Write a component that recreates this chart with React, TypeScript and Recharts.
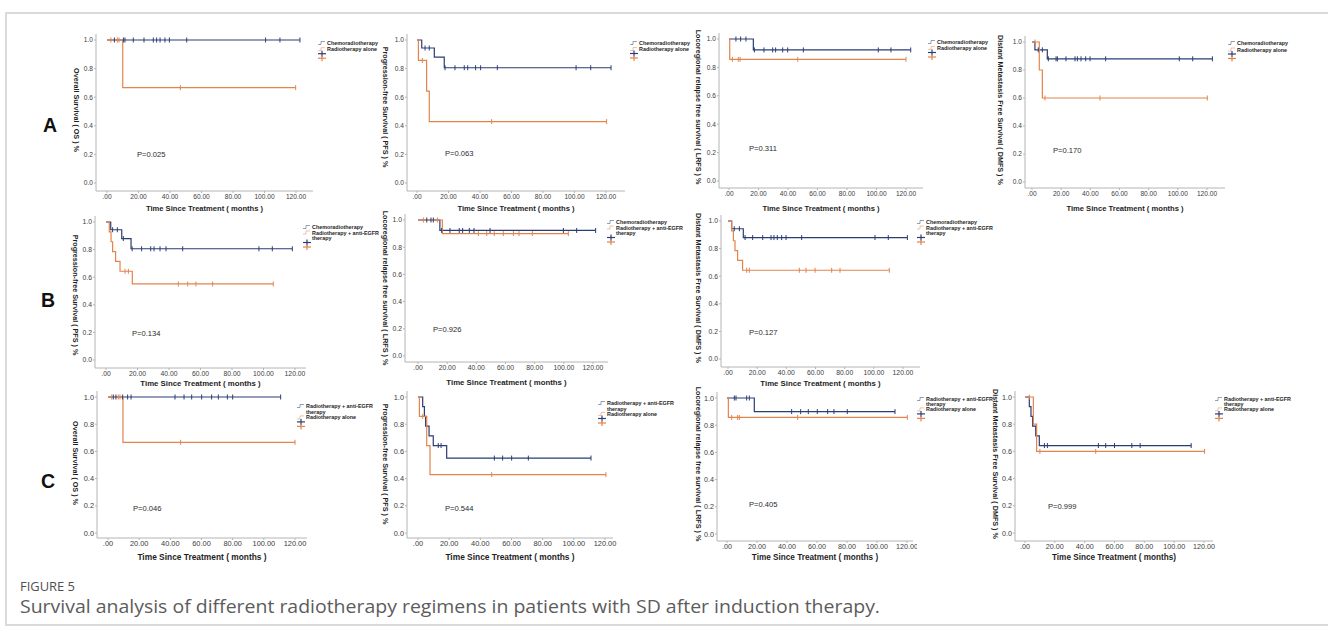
import { LineChart, Line, XAxis, YAxis } from 'recharts';

// [month, survival, censored]
type Pt = [number, number, number?];

const BLUE = '#2a3d75';
const ORANGE = '#e3844d';
const AXIS = '#b4b4b4';
const FONT = "'Liberation Sans', Arial, sans-serif";

const monthTicks = [0, 20, 40, 60, 80, 100, 120];
const survivalTicks = [0, 0.2, 0.4, 0.6, 0.8, 1.0];

// ---- Row A: chemoradiotherapy vs radiotherapy alone ----
const osChemoA: Pt[] = [[0, 1], [4.7, 1, 1], [10.4, 1, 1], [11.4, 1, 1], [16.7, 1, 1], [23.5, 1, 1], [29.4, 1, 1], [31.5, 1, 1], [33.7, 1, 1], [36.8, 1, 1], [39.6, 1, 1], [50.6, 1, 1], [100.7, 1, 1], [109.8, 1, 1], [122.5, 1, 1]];
const osRtA: Pt[] = [[0, 1], [2.5, 1, 1], [6.6, 1, 1], [7.6, 1, 1], [10, 0.667], [46.6, 0.667, 1], [119.8, 0.667, 1]];

const pfsChemoA: Pt[] = [[0, 1], [3, 0.944], [5.1, 0.944, 1], [7.8, 0.944, 1], [11, 0.88], [17.3, 0.806], [17.8, 0.806, 1], [24.1, 0.806, 1], [30, 0.806, 1], [32.2, 0.806, 1], [37.2, 0.806, 1], [40.4, 0.806, 1], [51, 0.806, 1], [101, 0.806, 1], [110.3, 0.806, 1], [123.2, 0.806, 1]];
const pfsRtA: Pt[] = [[0, 1], [0.9, 0.857], [3.4, 0.857, 1], [6.1, 0.643], [7.8, 0.429], [47.4, 0.429, 1], [120.4, 0.429, 1]];

const lrfsChemoA: Pt[] = [[0, 1], [4.7, 1, 1], [7.9, 1, 1], [11.5, 1, 1], [16.5, 0.923], [17.2, 0.923, 1], [23.7, 0.923, 1], [29.6, 0.923, 1], [31.6, 0.923, 1], [36.4, 0.923, 1], [39.8, 0.923, 1], [50.4, 0.923, 1], [101.2, 0.923, 1], [109.8, 0.923, 1], [123.2, 0.923, 1]];
const lrfsRtA: Pt[] = [[0, 1], [0.5, 0.857], [2.3, 0.857, 1], [6.3, 0.857, 1], [7.5, 0.857, 1], [46.6, 0.857, 1], [120, 0.857, 1]];

const dmfsChemoA: Pt[] = [[0, 1], [2, 0.944], [4.3, 0.944, 1], [7.1, 0.944, 1], [10.5, 0.88], [11.2, 0.88, 1], [16.5, 0.88, 1], [17.4, 0.88, 1], [23.3, 0.88, 1], [29.5, 0.88, 1], [31.1, 0.88, 1], [33.6, 0.88, 1], [36.8, 0.88, 1], [39.8, 0.88, 1], [50.5, 0.88, 1], [101, 0.88, 1], [110.2, 0.88, 1], [123.7, 0.88, 1]];
const dmfsRtA: Pt[] = [[0, 1], [2, 1, 1], [5, 0.8], [7.1, 0.6], [8.9, 0.6, 1], [46.6, 0.6, 1], [120.2, 0.6, 1]];

// ---- Row B: chemoradiotherapy vs radiotherapy + anti-EGFR ----
const pfsChemoB: Pt[] = [[0, 1], [3, 0.944], [4.2, 0.944, 1], [7.2, 0.944, 1], [10, 0.88], [11, 0.88, 1], [15.9, 0.806], [16.6, 0.806, 1], [22.6, 0.806, 1], [28.4, 0.806, 1], [30.5, 0.806, 1], [34.3, 0.806, 1], [38.1, 0.806, 1], [48.7, 0.806, 1], [97.1, 0.806, 1], [105.6, 0.806, 1], [118.3, 0.806, 1]];
const pfsEgfrB: Pt[] = [[0, 1], [2.1, 0.929], [3.2, 0.857], [4.2, 0.786], [6.1, 0.714], [8.9, 0.643], [12.1, 0.643, 1], [14.2, 0.643, 1], [16.7, 0.551], [45.9, 0.551, 1], [51.9, 0.551, 1], [57.1, 0.551, 1], [67.7, 0.551, 1], [106.2, 0.551, 1]];

const lrfsChemoB: Pt[] = [[0, 1], [6, 1, 1], [8.9, 1, 1], [10.5, 1, 1], [15, 0.923], [16.2, 0.923, 1], [21.9, 0.923, 1], [28.3, 0.923, 1], [30.6, 0.923, 1], [35.2, 0.923, 1], [38.4, 0.923, 1], [49.4, 0.923, 1], [99.7, 0.923, 1], [108.8, 0.923, 1], [121.8, 0.923, 1]];
const lrfsEgfrB: Pt[] = [[0, 1], [3.7, 1, 1], [13.3, 1, 1], [16.7, 0.9], [41.4, 0.9, 1], [47.1, 0.9, 1], [52.3, 0.9, 1], [58.5, 0.9, 1], [65.4, 0.9, 1], [69.3, 0.9, 1], [78.4, 0.9, 1], [103.1, 0.9, 1]];

const dmfsChemoB: Pt[] = [[0, 1], [2.5, 0.944], [4.3, 0.944, 1], [7.8, 0.944, 1], [10.5, 0.88], [11.7, 0.88, 1], [16.9, 0.88, 1], [23.8, 0.88, 1], [29.5, 0.88, 1], [31.5, 0.88, 1], [33.8, 0.88, 1], [36.8, 0.88, 1], [39.8, 0.88, 1], [50.5, 0.88, 1], [100.8, 0.88, 1], [109.9, 0.88, 1], [123, 0.88, 1]];
const dmfsEgfrB: Pt[] = [[0, 1], [2.5, 0.929], [3.7, 0.857], [4.8, 0.786], [6.6, 0.714], [10, 0.643], [12.8, 0.643, 1], [14.6, 0.643, 1], [48.9, 0.643, 1], [53.5, 0.643, 1], [59.7, 0.643, 1], [71.1, 0.643, 1], [76.8, 0.643, 1], [110.6, 0.643, 1]];

// ---- Row C: radiotherapy + anti-EGFR vs radiotherapy alone ----
const osEgfrC: Pt[] = [[0, 1], [3.4, 1, 1], [5.1, 1, 1], [9.4, 1, 1], [12.6, 1, 1], [14.8, 1, 1], [43, 1, 1], [48.8, 1, 1], [53.7, 1, 1], [60.1, 1, 1], [66.5, 1, 1], [70.8, 1, 1], [76.6, 1, 1], [80, 1, 1], [110.8, 1, 1]];
const osRtC: Pt[] = [[0, 1], [2.4, 1, 1], [6.6, 1, 1], [7.7, 1, 1], [9.6, 0.667], [46.6, 0.667, 1], [120, 0.667, 1]];

const pfsEgfrC: Pt[] = [[0, 1], [3, 0.929], [4.1, 0.857], [4.9, 0.786], [7.1, 0.714], [9.8, 0.643], [13, 0.643, 1], [14.8, 0.643, 1], [18.4, 0.551], [49, 0.551, 1], [54.3, 0.551, 1], [60.1, 0.551, 1], [70.8, 0.551, 1], [111, 0.551, 1]];
const pfsRtC: Pt[] = [[0, 1], [0.9, 0.857], [3, 0.857, 1], [5.6, 0.643], [7.7, 0.429], [47.3, 0.429, 1], [120.6, 0.429, 1]];

const lrfsEgfrC: Pt[] = [[0, 1], [4.9, 1, 1], [6, 1, 1], [13.1, 1, 1], [14.9, 1, 1], [18.2, 0.9], [43.1, 0.9, 1], [49.1, 0.9, 1], [54.2, 0.9, 1], [60.2, 0.9, 1], [67.1, 0.9, 1], [71.3, 0.9, 1], [80.2, 0.9, 1], [112, 0.9, 1]];
const lrfsRtC: Pt[] = [[0, 1], [0.9, 0.857], [3.1, 0.857, 1], [7.1, 0.857, 1], [8.2, 0.857, 1], [47.1, 0.857, 1], [120.2, 0.857, 1]];

const dmfsEgfrC: Pt[] = [[0, 1], [2.9, 0.929], [4, 0.857], [5.1, 0.786], [7.2, 0.714], [9.6, 0.643], [13, 0.643, 1], [15, 0.643, 1], [49.2, 0.643, 1], [54.1, 0.643, 1], [60, 0.643, 1], [71.6, 0.643, 1], [77.2, 0.643, 1], [111.4, 0.643, 1]];
const dmfsRtC: Pt[] = [[0, 1], [2.9, 1, 1], [5.6, 0.8], [7.8, 0.6], [10, 0.6, 1], [47.4, 0.6, 1], [120.4, 0.6, 1]];

type LegendRow = { text: string; icon?: string };
const legendA: LegendRow[] = [{ text: 'Chemoradiotherapy', icon: BLUE }, { text: 'Radiotherapy alone', icon: ORANGE }];
const legendB: LegendRow[] = [{ text: 'Chemoradiotherapy', icon: BLUE }, { text: 'Radiotherapy + anti-EGFR', icon: ORANGE }, { text: 'therapy' }];
const legendC: LegendRow[] = [{ text: 'Radiotherapy + anti-EGFR', icon: BLUE }, { text: 'therapy' }, { text: 'Radiotherapy alone', icon: ORANGE }];

const OS = 'Overall Survival ( OS ) %';
const PFS = 'Progression-free Survival ( PFS ) %';
const LRFS = 'Locoregional relapse free survival ( LRFS ) %';
const DMFS = 'Distant Metastasis Free Survival ( DMFS ) %';
const TIME = 'Time Since Treatment ( months )';

// pixel frame of each plot: y-axis line, month 0, month 120, right end, survival 1.0, survival 0.0, x-axis line
type Frame = { axisX: number; zeroX: number; x120: number; rightX: number; y1: number; y0: number; bottomY: number };

type Panel = {
  f: Frame;
  blue: Pt[];
  orange: Pt[];
  yLabel: string;
  yl: [number, number];
  clipTop?: number;
  p: string;
  pPos: [number, number];
  legend: LegendRow[];
  lg: [number, number, number];
  titleY: number;
  tickFont: number;
  title?: string;
};

const panels: Panel[] = [
  { f: { axisX: 96, zeroX: 107, x120: 296, rightX: 313, y1: 40, y0: 183, bottomY: 191 }, blue: osChemoA, orange: osRtA, yLabel: OS, yl: [76, 110], p: 'P=0.025', pPos: [137, 154], legend: legendA, lg: [318, 43, 6.2], titleY: 208, tickFont: 6.6 },
  { f: { axisX: 407, zeroX: 417, x120: 606, rightX: 625, y1: 40, y0: 183, bottomY: 191 }, blue: pfsChemoA, orange: pfsRtA, yLabel: PFS, yl: [385, 107], p: 'P=0.063', pPos: [445, 153], legend: legendA, lg: [630, 43, 6], titleY: 208, tickFont: 6.6 },
  { f: { axisX: 719, zeroX: 729, x120: 906, rightX: 923, y1: 39, y0: 181, bottomY: 188 }, blue: lrfsChemoA, orange: lrfsRtA, yLabel: LRFS, yl: [698, 107], clipTop: 36, p: 'P=0.311', pPos: [749, 148], legend: legendA, lg: [928, 42, 6], titleY: 208, tickFont: 6.6 },
  { f: { axisX: 1025, zeroX: 1032, x120: 1207, rightX: 1225, y1: 42, y0: 182, bottomY: 188 }, blue: dmfsChemoA, orange: dmfsRtA, yLabel: DMFS, yl: [1000, 110], p: 'P=0.170', pPos: [1053, 150], legend: legendA, lg: [1228, 43, 6.5], titleY: 208, tickFont: 6.6 },
  { f: { axisX: 95, zeroX: 106, x120: 295, rightX: 306, y1: 222, y0: 360, bottomY: 368 }, blue: pfsChemoB, orange: pfsEgfrB, yLabel: PFS, yl: [75, 295], p: 'P=0.134', pPos: [132, 333], legend: legendB, lg: [303, 227, 5.5], titleY: 383, tickFont: 6.8 },
  { f: { axisX: 405, zeroX: 418, x120: 593, rightX: 608, y1: 220, y0: 356, bottomY: 362 }, blue: lrfsChemoB, orange: lrfsEgfrB, yLabel: LRFS, yl: [385, 288], p: 'P=0.926', pPos: [433, 329], legend: legendB, lg: [607, 222, 5.5], titleY: 382, tickFont: 6.8 },
  { f: { axisX: 721, zeroX: 728, x120: 903, rightX: 920, y1: 221, y0: 359, bottomY: 367 }, blue: dmfsChemoB, orange: dmfsEgfrB, yLabel: DMFS, yl: [698, 288], p: 'P=0.127', pPos: [749, 332], legend: legendB, lg: [917, 222, 5.5], titleY: 383, tickFont: 6.8 },
  { f: { axisX: 97, zeroX: 108, x120: 295, rightX: 307, y1: 397, y0: 533, bottomY: 538 }, blue: osEgfrC, orange: osRtC, yLabel: OS, yl: [75, 463], p: 'P=0.046', pPos: [133, 508], legend: legendC, lg: [297, 406, 5.7], titleY: 557, tickFont: 7.4 },
  { f: { axisX: 407, zeroX: 418, x120: 605, rightX: 613, y1: 397, y0: 533, bottomY: 538 }, blue: pfsEgfrC, orange: pfsRtC, yLabel: PFS, yl: [385, 464], p: 'P=0.544', pPos: [445, 508], legend: legendC, lg: [598, 403, 5.5], titleY: 557, tickFont: 7.4 },
  { f: { axisX: 717, zeroX: 727, x120: 907, rightX: 913, y1: 398, y0: 534, bottomY: 541 }, blue: lrfsEgfrC, orange: lrfsRtC, yLabel: LRFS, yl: [698, 464], p: 'P=0.405', pPos: [749, 504], legend: legendC, lg: [917, 399, 5.2], titleY: 557, tickFont: 7.2 },
  { f: { axisX: 1015, zeroX: 1025, x120: 1204, rightX: 1213, y1: 397, y0: 533, bottomY: 541 }, blue: dmfsEgfrC, orange: dmfsRtC, yLabel: DMFS, yl: [995, 464], p: 'P=0.999', pPos: [1048, 506], legend: legendC, lg: [1215, 399, 5.2], titleY: 557, tickFont: 7.2, title: 'Time Since Treatment ( months)' },
];

const YW = 30;
const XH = 14;
const RM = 4;

const toRows = (pts: Pt[]) => pts.map(([t, s, c]) => ({ t, s, c: c ? 1 : 0 }));
const fmtMonth = (v: number) => (v === 0 ? '.00' : v.toFixed(2));

// censored cases are drawn as short vertical ticks on the step line
const censorDot = (color: string) => (props: any) => {
  const { cx, cy, payload, index } = props;
  if (!payload || !payload.c) return <g key={`n${index}`} />;
  return <line key={`c${index}`} x1={cx} x2={cx} y1={cy - 2.5} y2={cy + 2.5} stroke={color} strokeWidth={1} />;
};

function KmChart({ panel }: { panel: Panel }) {
  const f = panel.f;
  const ppm = (f.x120 - f.zeroX) / 120;
  const xMin = -(f.zeroX - f.axisX) / ppm;
  const xMax = 120 + (f.rightX - f.x120) / ppm;
  const ppu = f.y0 - f.y1;
  const top = f.y1 - 6;
  const yMax = 1 + 6 / ppu;
  const yMin = -(f.bottomY - f.y0) / ppu;
  const w = YW + (f.rightX - f.axisX) + RM;
  const h = f.bottomY - top + XH;
  const tick = { fontSize: panel.tickFont, fill: '#3c3c3c', fontFamily: FONT };
  return (
    <div style={{ position: 'absolute', left: f.axisX - YW, top }}>
      <LineChart width={w} height={h} margin={{ top: 0, right: RM, bottom: 0, left: 0 }}>
        <XAxis dataKey="t" type="number" domain={[xMin, xMax]} ticks={monthTicks} tickFormatter={fmtMonth}
          allowDataOverflow height={XH} stroke={AXIS} tickSize={2} tickMargin={1} tick={tick} interval={0} />
        <YAxis type="number" domain={[yMin, yMax]} ticks={survivalTicks} tickFormatter={(v: number) => v.toFixed(1)}
          allowDataOverflow width={YW} stroke={AXIS} tickSize={2} tickMargin={1} tick={tick} interval={0} />
        <Line data={toRows(panel.blue)} dataKey="s" type="stepAfter" stroke={BLUE} strokeWidth={1.2}
          dot={censorDot(BLUE)} activeDot={false} isAnimationActive={false} />
        <Line data={toRows(panel.orange)} dataKey="s" type="stepAfter" stroke={ORANGE} strokeWidth={1.2}
          dot={censorDot(ORANGE)} activeDot={false} isAnimationActive={false} />
      </LineChart>
    </div>
  );
}

function KmLegend({ x, y, gap, rows }: { x: number; y: number; gap: number; rows: LegendRow[] }) {
  const crossY = y + (rows.length - 1) * gap + 4.5;
  return (
    <g>
      {rows.map((r, i) => {
        const cy = y + i * gap;
        return (
          <g key={i}>
            {r.icon && <path d={`M${x},${cy + 1.5} h3 v-3 h4`} fill="none" stroke={r.icon} strokeWidth={0.7} opacity={0.7} />}
            <text x={x + 9} y={cy} fontSize={5.4} fontWeight="bold" fontFamily={FONT} fill="#1e1e1e" dominantBaseline="central">{r.text}</text>
          </g>
        );
      })}
      {[BLUE, ORANGE].map((c, i) => (
        <g key={c} stroke={c} strokeWidth={1.2}>
          <line x1={x} x2={x + 8} y1={crossY + i * 4.5} y2={crossY + i * 4.5} />
          <line x1={x + 4} x2={x + 4} y1={crossY + i * 4.5 - 3} y2={crossY + i * 4.5 + 3} />
        </g>
      ))}
    </g>
  );
}

function PanelText({ panel, idx }: { panel: Panel; idx: number }) {
  const f = panel.f;
  const [lx, ly] = panel.yl;
  const clipId = `clip${idx}`;
  return (
    <g>
      {panel.clipTop !== undefined && (
        <defs>
          <clipPath id={clipId}><rect x={0} y={panel.clipTop} width={1328} height={634} /></clipPath>
        </defs>
      )}
      <text x={lx} y={ly} transform={`rotate(90 ${lx} ${ly})`} textAnchor="middle" dominantBaseline="central"
        fontSize={7.2} fontWeight="bold" fontFamily={FONT} fill="#1e1e1e"
        clipPath={panel.clipTop !== undefined ? `url(#${clipId})` : undefined}>{panel.yLabel}</text>
      <text x={(f.axisX + f.rightX) / 2} y={panel.titleY} textAnchor="middle" dominantBaseline="central"
        fontSize={panel.tickFont + 1} fontWeight="bold" fontFamily={FONT} fill="#1e1e1e">{panel.title ?? TIME}</text>
      <text x={panel.pPos[0]} y={panel.pPos[1]} dominantBaseline="central" fontSize={7.6} fontFamily={FONT} fill="#2a2a2a">{panel.p}</text>
      <KmLegend x={panel.lg[0]} y={panel.lg[1]} gap={panel.lg[2]} rows={panel.legend} />
    </g>
  );
}

export default function App() {
  return (
    <div style={{ position: 'absolute', left: 0, top: 0, width: 1328, height: 634, background: '#fff', overflow: 'hidden' }}>
      <div style={{ position: 'absolute', left: 5, top: 12, width: 1340, height: 614, border: '2px solid #dadada', boxSizing: 'border-box' }} />
      {panels.map((p, i) => <KmChart key={i} panel={p} />)}
      <svg width={1328} height={634} style={{ position: 'absolute', left: 0, top: 0, pointerEvents: 'none' }}>
        {panels.map((p, i) => <PanelText key={i} panel={p} idx={i} />)}
        <g fontFamily={FONT} fontWeight="bold" fontSize={19.5} fill="#111">
          <text x={43} y={125} dominantBaseline="central">A</text>
          <text x={41} y={300} dominantBaseline="central">B</text>
          <text x={41} y={481} dominantBaseline="central">C</text>
        </g>
        <text x={20} y={586} dominantBaseline="central" fontFamily="'Open Sans', sans-serif" fontSize={12.5}
          fill="#4f4f4f" textLength={55} lengthAdjust="spacingAndGlyphs">FIGURE 5</text>
        <text x={20} y={606} dominantBaseline="central" fontFamily="'Open Sans', sans-serif" fontSize={18}
          fill="#5c5c5c" textLength={860} lengthAdjust="spacingAndGlyphs">
          Survival analysis of different radiotherapy regimens in patients with SD after induction therapy.
        </text>
      </svg>
    </div>
  );
}
